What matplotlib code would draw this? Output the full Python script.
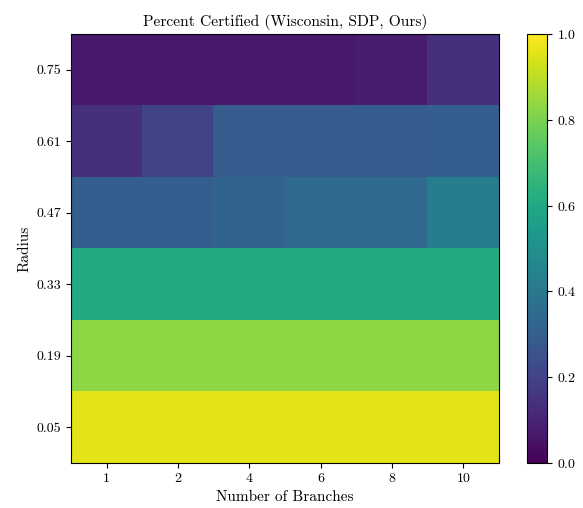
import matplotlib
matplotlib.use('Agg')
import matplotlib.pyplot as plt
import numpy as np

plt.rcParams['font.family'] = 'serif'
plt.rcParams['font.serif'] = ['cmr10', 'DejaVu Serif']
plt.rcParams['mathtext.fontset'] = 'cm'
plt.rcParams['axes.formatter.use_mathtext'] = True

# radius rows from top to bottom, branch columns left to right
radius_labels = ['0.75', '0.61', '0.47', '0.33', '0.19', '0.05']
branch_labels = ['1', '2', '4', '6', '8', '10']

row_075 = [0.07, 0.07, 0.07, 0.07, 0.08, 0.14]
row_061 = [0.14, 0.20, 0.29, 0.29, 0.29, 0.30]
row_047 = [0.30, 0.30, 0.32, 0.34, 0.34, 0.42]
row_033 = [0.61, 0.61, 0.61, 0.61, 0.61, 0.61]
row_019 = [0.83, 0.83, 0.83, 0.83, 0.83, 0.83]
row_005 = [0.96, 0.96, 0.96, 0.96, 0.96, 0.96]

grid = np.array([row_075, row_061, row_047, row_033, row_019, row_005])

fig = plt.figure(figsize=(5.83, 5.08), dpi=100)
ax = fig.add_axes([0.122, 0.089, 0.734, 0.844])
cax = fig.add_axes([0.904, 0.089, 0.034, 0.844])

im = ax.imshow(grid, cmap='viridis', vmin=0, vmax=1, aspect='auto')
ax.set_xticks(range(len(branch_labels)))
ax.set_xticklabels(branch_labels)
ax.set_yticks(range(len(radius_labels)))
ax.set_yticklabels(radius_labels)
ax.set_xlabel('Number of Branches', fontsize=11)
ax.set_ylabel('Radius', fontsize=11)
ax.set_title('Percent Certified (Wisconsin, SDP, Ours)', fontsize=11.2)

cb = fig.colorbar(im, cax=cax)
cb.set_ticks([0.0, 0.2, 0.4, 0.6, 0.8, 1.0])

plt.savefig('out.png', dpi=100)
